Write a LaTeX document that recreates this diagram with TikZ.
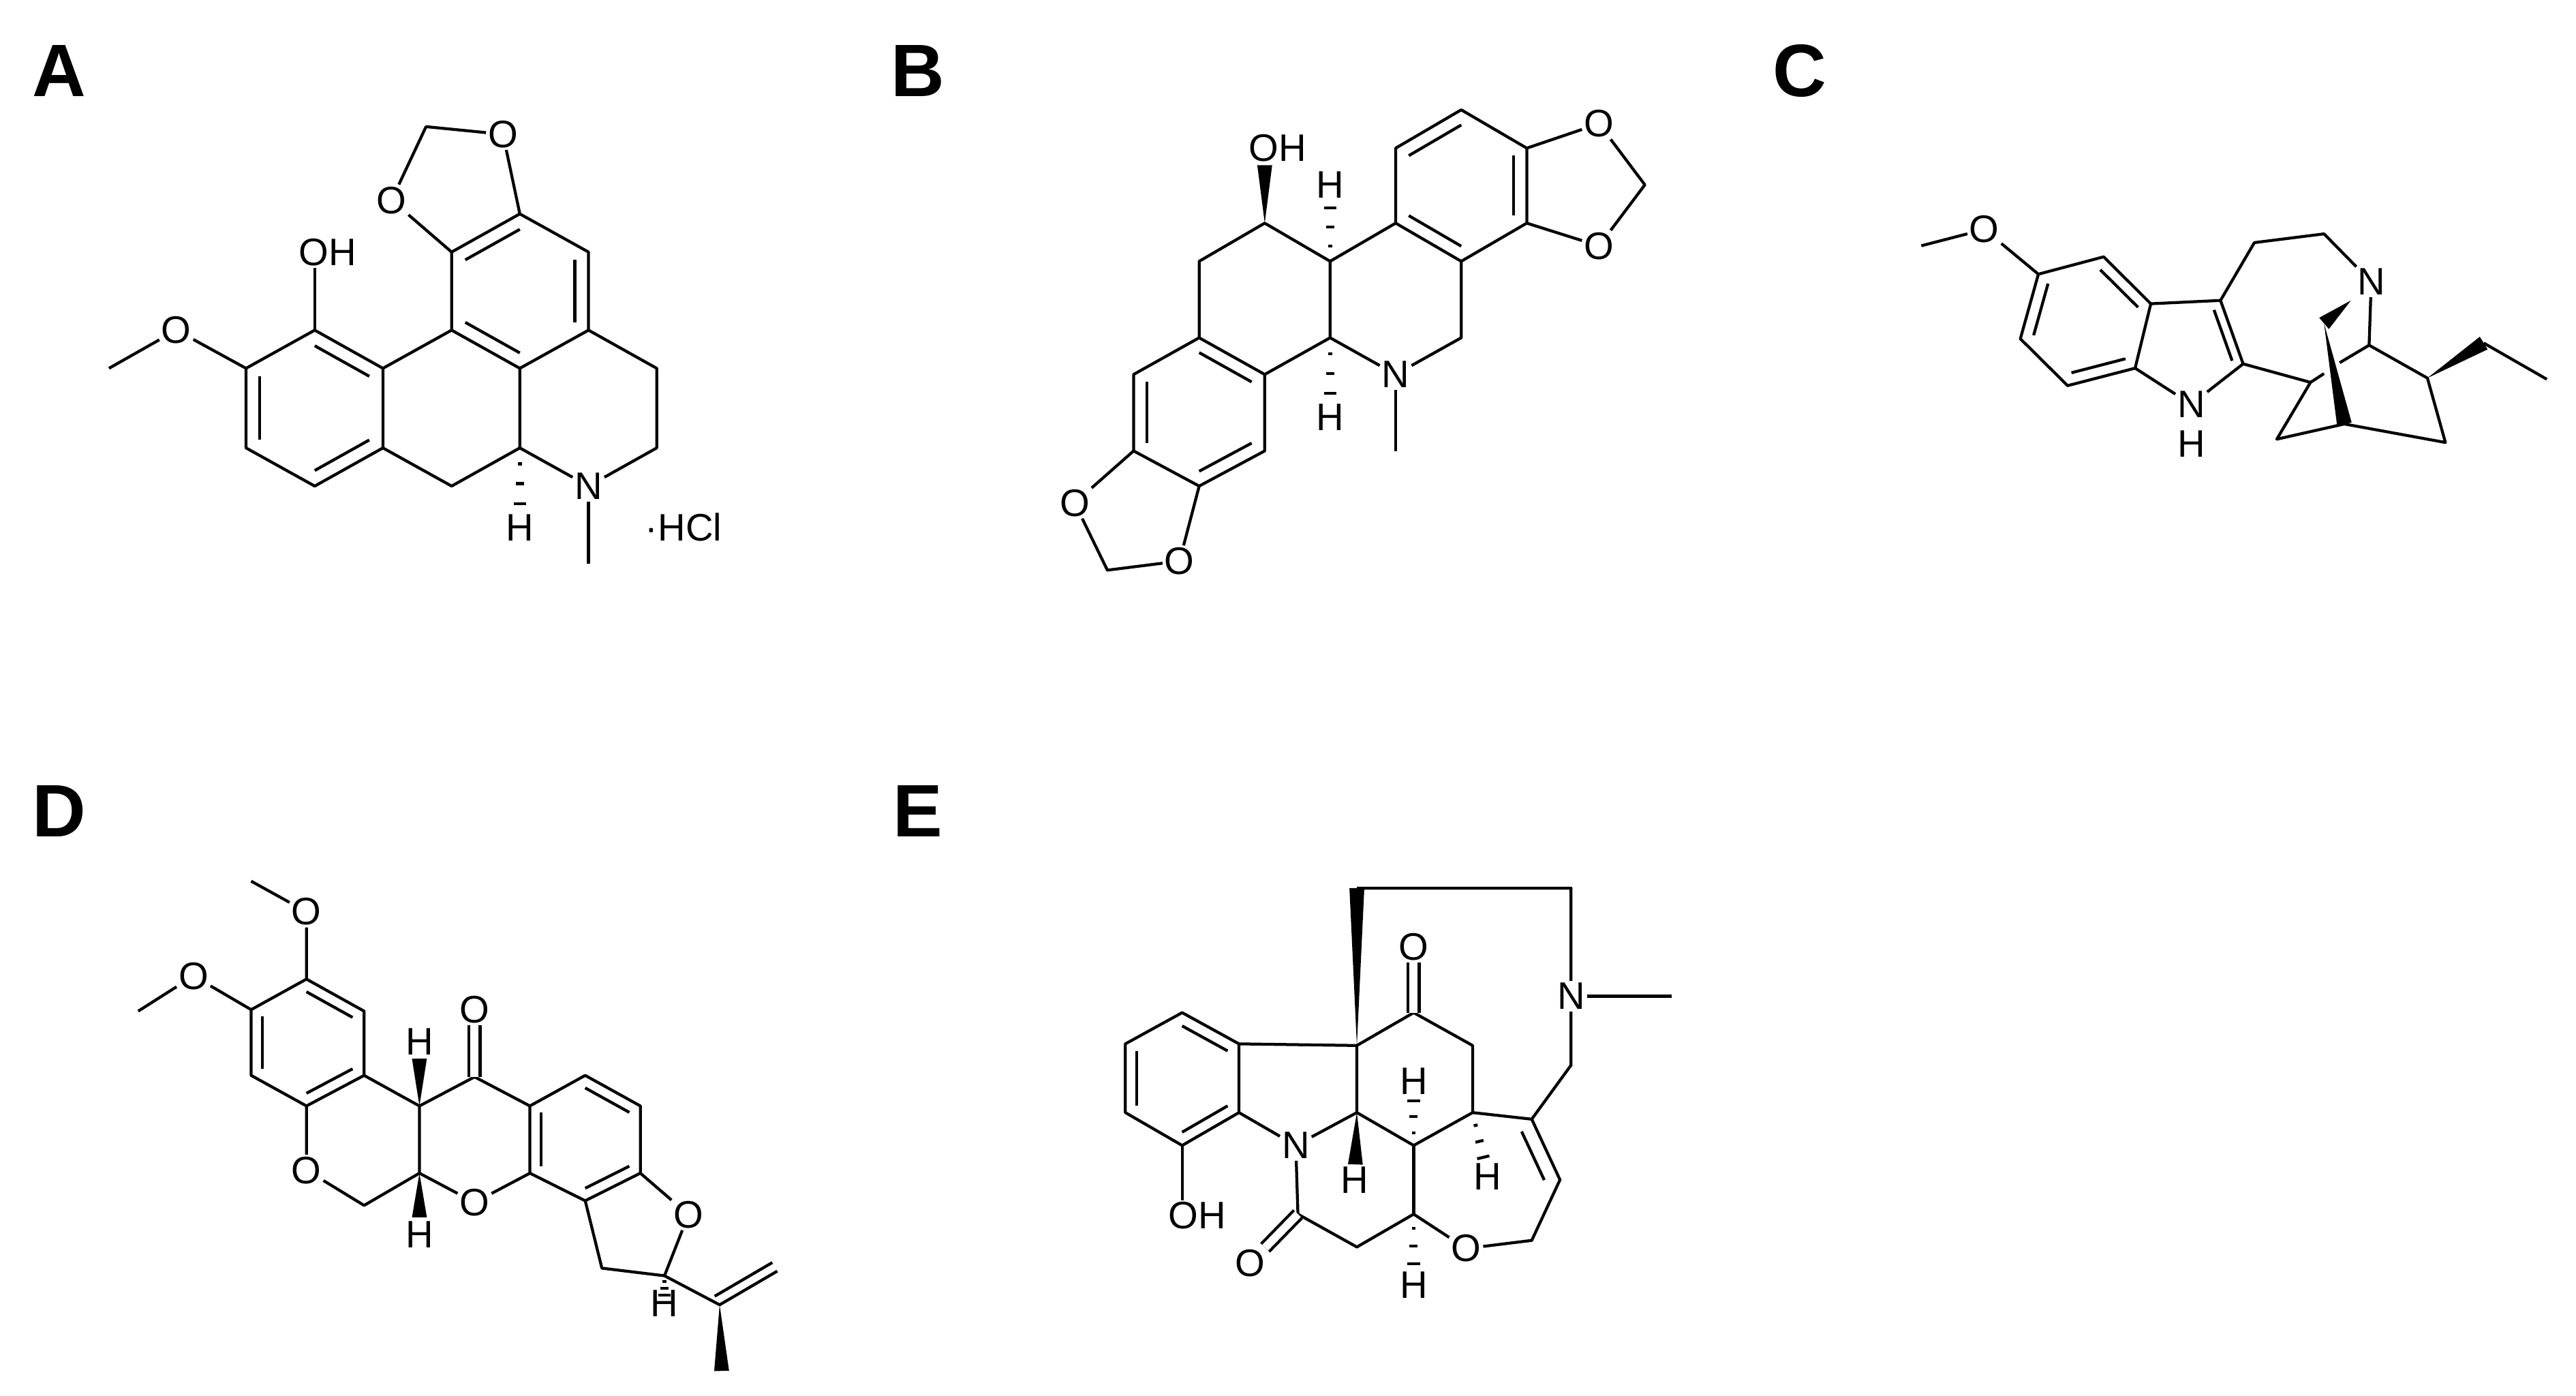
\documentclass[tikz,border=0pt]{standalone}
\usepackage{fontspec}
\setmainfont{Liberation Sans}
\usetikzlibrary{calc}
\tikzset{bd/.style={line width=5pt,line join=round},
 atm/.style={font=\fontsize{66}{66}\selectfont,inner sep=0.12cm},
 lbl/.style={font=\fontsize{128}{128}\selectfont\bfseries,inner sep=0pt},
 dbl/.style={bd,double,double distance=14pt}}
\newcommand\dbi[3]{\draw[bd] ($(#1)!0.2!(#3)$) -- ($(#2)!0.2!(#3)$);}
\newcommand\wdg[2]{\fill (#1) -- ($(#2)!0.45cm!90:(#1)$) -- ($(#2)!0.45cm!-90:(#1)$) -- cycle;}
\newcommand\hsh[2]{\foreach \t/\w in {0.2/0.12cm,0.45/0.25cm,0.7/0.38cm}{\coordinate (hp) at ($(#1)!\t!(#2)$); \draw[bd] ($(hp)!\w!90:(#2)$) -- ($(hp)!\w!-90:(#2)$);}}
\begin{document}
\begin{tikzpicture}[x=0.1cm,y=-0.1cm]
\useasboundingbox (0,0) rectangle (1560,845.2);
\fill[white] (0,0) rectangle (1560,845.2);
% labels
\node[lbl] at (36,43) {A};
\node[lbl] at (556,43) {B};
\node[lbl] at (1090,43) {C};
\node[lbl] at (36,491) {D};
\node[lbl] at (556,491) {E};
% ---------------- A
\coordinate (a1) at (190.6,199.9); \coordinate (a2) at (149,223); \coordinate (a3) at (149,271.2);
\coordinate (a4) at (190.6,294.3); \coordinate (a5) at (231.9,271.2); \coordinate (a6) at (231.9,223);
\coordinate (a7) at (273.5,199.9); \coordinate (a8) at (273.5,152.6); \coordinate (a9) at (314.8,129.5);
\coordinate (a10) at (356.4,152.6); \coordinate (a11) at (356.4,199.9); \coordinate (a12) at (314.8,223);
\coordinate (a13) at (314.8,271.2); \coordinate (a14) at (273.5,294.3); \coordinate (a15) at (397.7,271.2);
\coordinate (a16) at (397.7,223); \coordinate (aMe) at (356.4,341.5); \coordinate (aMe2) at (66,223);
\coordinate (aC) at (258,76.7);
\coordinate (cA1) at (190.6,247.1); \coordinate (cA2) at (314.8,176.3);
\node[atm] (AOH) at (198.4,152.6) {OH};
\node[atm] (AOm) at (106.8,199.9) {O};
\node[atm] (AN) at (356.4,294.3) {N};
\node[atm] (AH) at (314.8,319.3) {H};
\node[atm] (AO1) at (237.1,121.2) {O};
\node[atm] (AO2) at (304.6,81.3) {O};
\node[atm] (AHCl) at (414,319.3) {·HCl};
\draw[bd] (a1)--(a2)--(a3)--(a4)--(a5)--(a6)--cycle;
\draw[bd] (a6)--(a7);
\draw[bd] (a7)--(a8)--(a9)--(a10)--(a11)--(a12)--cycle;
\draw[bd] (a5)--(a14)--(a13)--(a12);
\draw[bd] (a13)--(AN)--(a15)--(a16)--(a11);
\draw[bd] (AN)--(aMe);
\draw[bd] (a1)--(a1|-AOH.south);
\draw[bd] (a2)--(AOm)--(aMe2);
\draw[bd] (a8)--(AO1)--(aC)--(AO2)--(a9);
\hsh{a13}{AH}
\dbi{a1}{a6}{cA1} \dbi{a2}{a3}{cA1} \dbi{a4}{a5}{cA1}
\dbi{a8}{a9}{cA2} \dbi{a10}{a11}{cA2} \dbi{a7}{a12}{cA2}
% ---------------- B
\coordinate (b1) at (765.9,135.1); \coordinate (b2) at (805.5,158.2); \coordinate (b3) at (726.2,158.2);
\coordinate (b4) at (726.2,204.5); \coordinate (b5) at (765.9,226.7); \coordinate (b6) at (805.5,204.5);
\coordinate (b7) at (884.9,204.5); \coordinate (b8) at (884.9,158.2); \coordinate (b9) at (845.2,135.1);
\coordinate (b10) at (845.2,89.7); \coordinate (b11) at (884.9,66.5); \coordinate (b12) at (924.6,89.7);
\coordinate (b13) at (924.6,135.1); \coordinate (b14) at (686.5,226.7); \coordinate (b15) at (686.5,273);
\coordinate (b16) at (726.2,294.3); \coordinate (b17) at (765.9,273);
\coordinate (bMe) at (845.2,273); \coordinate (bC1) at (996.1,111.9); \coordinate (bC2) at (670.6,345.2);
\coordinate (cB1) at (884.9,112.4); \coordinate (cB2) at (726.2,249.4);
\node[atm] (BOH) at (773.8,89.7) {OH};
\node[atm] (BH1) at (805.5,111.9) {H};
\node[atm] (BH2) at (805.5,252.7) {H};
\node[atm] (BN) at (845.2,226.7) {N};
\node[atm] (BO1) at (968.3,74.9) {O};
\node[atm] (BO2) at (968.3,148.9) {O};
\node[atm] (BO3) at (650.8,304.5) {O};
\node[atm] (BO4) at (714.3,339.7) {O};
\draw[bd] (b4)--(b3)--(b1)--(b2)--(b6)--(b5);
\draw[bd] (b6)--(BN)--(b7)--(b8);
\draw[bd] (BN)--(bMe);
\draw[bd] (b2)--(b9);
\draw[bd] (b9)--(b10)--(b11)--(b12)--(b13)--(b8)--cycle;
\draw[bd] (b12)--(BO1)--(bC1)--(BO2)--(b13);
\draw[bd] (b5)--(b4)--(b14)--(b15)--(b16)--(b17)--cycle;
\draw[bd] (b15)--(BO3)--(bC2)--(BO4)--(b16);
\wdg{b1}{765.9,100}
\hsh{b2}{BH1} \hsh{b6}{BH2}
\dbi{b10}{b11}{cB1} \dbi{b12}{b13}{cB1} \dbi{b8}{b9}{cB1}
\dbi{b4}{b5}{cB2} \dbi{b14}{b15}{cB2} \dbi{b16}{b17}{cB2}
% ---------------- C
\coordinate (cMe) at (1163.5,148.8); \coordinate (c1) at (1234.4,166); \coordinate (c2) at (1273.9,155.5);
\coordinate (c3) at (1302.5,183.9); \coordinate (c4) at (1293,222.9); \coordinate (c5) at (1252.1,233.5);
\coordinate (c6) at (1223.5,205.1); \coordinate (c7) at (1344.7,181.9); \coordinate (c8) at (1358.4,220.3);
\coordinate (c9) at (1399.2,231.5); \coordinate (cb1) at (1365.2,146.9); \coordinate (cb2) at (1407.4,141.6);
\coordinate (c10) at (1434.7,209); \coordinate (c11) at (1470,228.9); \coordinate (c12) at (1480.9,267.9);
\coordinate (cbr) at (1419.7,256.7); \coordinate (c13) at (1378.8,265.9); \coordinate (cCH) at (1407.4,195.8);
\coordinate (cNn) at (1423.7,181.9); \coordinate (c14) at (1504.1,207.7); \coordinate (c15) at (1542.3,229.6);
\coordinate (cg1) at (1416.9,219.6); \coordinate (cg2) at (1407.4,226.2);
\coordinate (cC1) at (1263.7,194.5); \coordinate (cC2) at (1325.1,210.8);
\node[atm] (CO) at (1201.7,138.9) {O};
\node[atm] (CN1) at (1327,244.8) {N};
\node[atm] (CHh) at (1327,268.6) {H};
\node[atm] (CN2) at (1436,170.7) {N};
\draw[bd] (cMe)--(CO)--(c1);
\draw[bd] (c1)--(c2)--(c3)--(c4)--(c5)--(c6)--cycle;
\draw[bd] (c3)--(c7)--(c8)--(CN1)--(c4);
\draw[bd] (c7)--(cb1)--(cb2)--(CN2);
\draw[bd] (c8)--(c9)--(c13)--(cbr)--(c12)--(c11)--(c10);
\draw[bd] (CN2)--(c10)--(cg1);
\draw[bd] (cg2)--(c9);
\draw[bd] (c14)--(c15);
\wdg{cCH}{cbr}
\wdg{cNn}{cCH}
\wdg{c11}{c14}
\dbi{c1}{c6}{cC1} \dbi{c2}{c3}{cC1} \dbi{c4}{c5}{cC1}
\dbi{c7}{c8}{cC2}
% ---------------- D
\coordinate (d1) at (185.6,592.8); \coordinate (d2) at (152.1,611.3); \coordinate (d3) at (152.1,651.1);
\coordinate (d4) at (185.6,669.6); \coordinate (d5) at (220.5,651.1); \coordinate (d6) at (220.5,612.2);
\coordinate (d7) at (254,710.3); \coordinate (d8) at (254,669.6); \coordinate (d9) at (287.4,652);
\coordinate (d10) at (320.9,669.6); \coordinate (d11) at (320.9,710.3); \coordinate (d12) at (354.4,651.1);
\coordinate (d13) at (387.8,669.6); \coordinate (d14) at (387.8,710.3); \coordinate (d15) at (354.4,727);
\coordinate (d16) at (402.4,772.4); \coordinate (d17) at (364.5,767.8); \coordinate (d18) at (435.8,790);
\coordinate (d19) at (470.7,769.6); \coordinate (d20) at (437,830);
\coordinate (dMe1) at (152.1,533.5); \coordinate (dMe2) at (83.7,612.2); \coordinate (dC1) at (220.5,729.8);
\coordinate (cD1) at (185.6,631.2); \coordinate (cD2) at (354.4,689);
\node[atm] (DO1) at (185.6,552) {O};
\node[atm] (DO2) at (117.2,590.9) {O};
\node[atm] (DO3) at (185.6,708.5) {O};
\node[atm] (DH1) at (254,630.7) {H};
\node[atm] (DH2) at (254,747.4) {H};
\node[atm] (DOk) at (287.4,611.3) {O};
\node[atm] (DO4) at (287.4,728) {O};
\node[atm] (DO5) at (416.9,735.4) {O};
\node[atm] (DH3) at (402.4,789) {H};
\draw[bd] (dMe1)--(DO1)--(d1);
\draw[bd] (dMe2)--(DO2)--(d2);
\draw[bd] (d1)--(d2)--(d3)--(d4)--(d5)--(d6)--cycle;
\draw[bd] (d4)--(DO3)--(dC1)--(d7)--(d8)--(d5);
\draw[bd] (d8)--(d9)--(d10);
\draw[bd] (d7)--(DO4)--(d11);
\draw[bd] (d10)--(d12)--(d13)--(d14)--(d15)--(d11)--cycle;
\draw[bd] (d14)--(DO5)--(d16)--(d17)--(d15);
\draw[bd] (d16)--(d18)--(d19);
\draw[bd] ($(d18)+(-3,-5.2)$)--($(d19)+(-3,-5.2)$);
\draw[dbl] (d9)--(DOk);
\wdg{d18}{d20}
\wdg{d8}{254,641}
\wdg{d7}{254,737}
\hsh{d16}{DH3}
\dbi{d1}{d6}{cD1} \dbi{d2}{d3}{cD1} \dbi{d4}{d5}{cD1}
\dbi{d10}{d11}{cD2} \dbi{d12}{d13}{cD2} \dbi{d14}{d15}{cD2}
% ---------------- E
\coordinate (e1) at (715.9,613.1); \coordinate (e2) at (750.3,632); \coordinate (e3) at (750.3,673.6);
\coordinate (e4) at (715.9,693.5); \coordinate (e5) at (681.5,673.6); \coordinate (e6) at (681.5,632);
\coordinate (e7) at (821.7,633); \coordinate (e8) at (821.7,673.6); \coordinate (et) at (821.7,537.7);
\coordinate (et2) at (951.4,537.7); \coordinate (eMe) at (1012.2,603.2); \coordinate (e15) at (951.4,644.9);
\coordinate (e9) at (927.6,677.6); \coordinate (e10) at (856.1,613.1); \coordinate (e11) at (891.8,633);
\coordinate (e12) at (891.8,673.6); \coordinate (e13) at (856.1,693.5); \coordinate (e14) at (856.1,735.1);
\coordinate (e16) at (927.6,751); \coordinate (e17) at (944.7,714.3); \coordinate (e18) at (786,735.1);
\coordinate (e19) at (821.7,755);
\coordinate (cE1) at (715.9,653.3); \coordinate (cE2) at (897,715);
\node[atm] (EOH) at (725.1,736.1) {OH};
\node[atm] (EN) at (784.7,693.5) {N};
\node[atm] (EH1) at (820.4,714.3) {H};
\node[atm] (EO1) at (856.1,573.4) {O};
\node[atm] (EH2) at (856.1,654.8) {H};
\node[atm] (EH3) at (901,712.3) {H};
\node[atm] (EH4) at (856.1,777.8) {H};
\node[atm] (EO2) at (887.9,755.9) {O};
\node[atm] (EO3) at (756.9,764.9) {O};
\node[atm] (EN2) at (951.4,603.2) {N};
\draw[bd] (e1)--(e2)--(e3)--(e4)--(e5)--(e6)--cycle;
\draw[bd] (e2)--(e7)--(e8)--(EN)--(e3);
\draw[bd] (e7)--(e10)--(e11)--(e12)--(e13)--(e8);
\draw[bd] (e13)--(e14);
\draw[bd] (e12)--(e9)--(e15)--(EN2)--(et2)--(et);
\draw[bd] (EN2)--(eMe);
\draw[bd] (e14)--(EO2)--(e16)--(e17)--(e9);
\draw[bd] (EN)--(e18)--(e19)--(e14);
\draw[bd] (e4)--(e4|-EOH.north);
\draw[dbl] (e10)--(EO1);
\draw[dbl] (e18)--(EO3);
\wdg{e7}{et}
\wdg{e8}{820.8,705}
\hsh{e12}{EH3} \hsh{e13}{EH2} \hsh{e14}{EH4}
\dbi{e1}{e2}{cE1} \dbi{e3}{e4}{cE1} \dbi{e5}{e6}{cE1}
\dbi{e9}{e17}{cE2}
\end{tikzpicture}
\end{document}
